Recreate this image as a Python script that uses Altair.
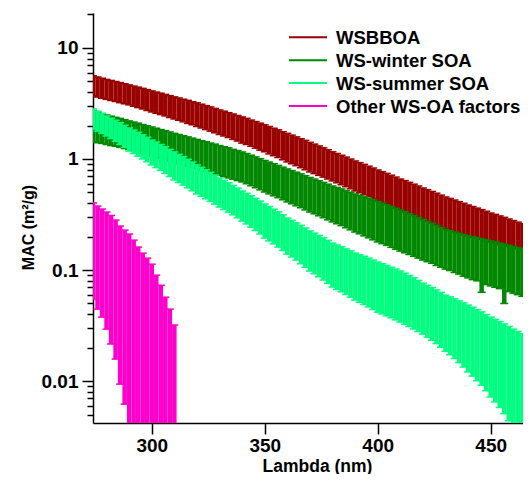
import altair as alt
import pandas as pd

# ---------------- data ----------------
lam = list(range(274, 469, 2))          # wavelength grid, nm
lam_other = list(range(274, 311, 2))    # "Other" factor only reaches ~311 nm

series_names = ["WSBBOA", "WS-winter SOA", "WS-summer SOA", "Other WS-OA factors"]
series_colors = ["#990000", "#008800", "#00FF80", "#FF00CC"]

# upper / lower ends of the error bars (MAC, m2/g)
wsbboa_hi = [5.60, 5.47, 5.33, 5.20, 5.09, 4.98, 4.87, 4.75, 4.64, 4.53,
             4.43, 4.32, 4.21, 4.10, 4.00, 3.91, 3.81, 3.72, 3.62, 3.54,
             3.45, 3.37, 3.28, 3.20, 3.11, 3.02, 2.94, 2.85, 2.76, 2.69,
             2.61, 2.54, 2.46, 2.39, 2.32, 2.24, 2.17, 2.10, 2.03, 1.96,
             1.89, 1.83, 1.76, 1.70, 1.64, 1.58, 1.52, 1.47, 1.41, 1.36,
             1.31, 1.26, 1.21, 1.16, 1.12, 1.08, 1.04, 0.999, 0.959, 0.926,
             0.894, 0.861, 0.829, 0.796, 0.769, 0.742, 0.714, 0.687, 0.660, 0.638,
             0.616, 0.593, 0.571, 0.548, 0.529, 0.510, 0.492, 0.473, 0.455, 0.441,
             0.427, 0.413, 0.399, 0.385, 0.373, 0.361, 0.350, 0.338, 0.326, 0.317,
             0.307, 0.298, 0.288, 0.279, 0.270, 0.262, 0.253, 0.244]
wsbboa_lo = [3.70, 3.61, 3.52, 3.44, 3.36, 3.29, 3.21, 3.14, 3.07, 2.98,
             2.90, 2.82, 2.73, 2.65, 2.58, 2.51, 2.44, 2.36, 2.29, 2.23,
             2.16, 2.09, 2.03, 1.96, 1.90, 1.84, 1.78, 1.72, 1.66, 1.61,
             1.56, 1.50, 1.45, 1.39, 1.35, 1.30, 1.25, 1.20, 1.16, 1.11,
             1.07, 1.03, 0.983, 0.940, 0.905, 0.870, 0.834, 0.799, 0.764, 0.738,
             0.712, 0.686, 0.660, 0.634, 0.610, 0.586, 0.563, 0.539, 0.515, 0.496,
             0.476, 0.457, 0.437, 0.418, 0.404, 0.390, 0.375, 0.361, 0.347, 0.335,
             0.322, 0.310, 0.297, 0.285, 0.275, 0.265, 0.254, 0.244, 0.234, 0.228,
             0.221, 0.215, 0.209, 0.203, 0.198, 0.193, 0.189, 0.184, 0.179, 0.175,
             0.171, 0.167, 0.163, 0.160, 0.156, 0.152, 0.149, 0.145]

winter_hi = [2.71, 2.64, 2.56, 2.49, 2.43, 2.37, 2.32, 2.26, 2.20, 2.15,
             2.10, 2.04, 1.99, 1.94, 1.89, 1.84, 1.80, 1.75, 1.70, 1.66,
             1.62, 1.58, 1.54, 1.50, 1.46, 1.43, 1.39, 1.36, 1.32, 1.29,
             1.26, 1.22, 1.19, 1.156, 1.119, 1.081, 1.044, 1.006, 0.969, 0.938,
             0.906, 0.875, 0.844, 0.813, 0.786, 0.760, 0.734, 0.707, 0.681, 0.659,
             0.637, 0.615, 0.593, 0.571, 0.554, 0.537, 0.518, 0.501, 0.484, 0.470,
             0.456, 0.442, 0.428, 0.414, 0.401, 0.387, 0.374, 0.360, 0.347, 0.335,
             0.322, 0.310, 0.297, 0.285, 0.274, 0.264, 0.253, 0.242, 0.232, 0.226,
             0.220, 0.214, 0.208, 0.203, 0.199, 0.195, 0.191, 0.187, 0.183, 0.179,
             0.175, 0.171, 0.167, 0.163, 0.159, 0.156, 0.152, 0.148]
winter_lo = [1.42, 1.40, 1.38, 1.35, 1.32, 1.30, 1.27, 1.24, 1.22, 1.19,
             1.16, 1.13, 1.09, 1.06, 1.04, 1.01, 0.983, 0.957, 0.930, 0.906,
             0.883, 0.859, 0.836, 0.813, 0.792, 0.772, 0.751, 0.731, 0.710, 0.692,
             0.675, 0.657, 0.639, 0.621, 0.598, 0.574, 0.551, 0.527, 0.504, 0.485,
             0.466, 0.448, 0.429, 0.410, 0.395, 0.379, 0.364, 0.348, 0.333, 0.321,
             0.308, 0.296, 0.283, 0.271, 0.261, 0.251, 0.240, 0.230, 0.220, 0.212,
             0.203, 0.195, 0.187, 0.179, 0.173, 0.167, 0.160, 0.154, 0.148, 0.143,
             0.138, 0.133, 0.128, 0.123, 0.119, 0.115, 0.110, 0.106, 0.102, 0.099,
             0.095, 0.092, 0.088, 0.085, 0.082, 0.080, 0.063, 0.074, 0.072, 0.070,
             0.068, 0.050, 0.064, 0.062, 0.060, 0.058, 0.050, 0.055]

summer_hi = [2.82, 2.69, 2.57, 2.44, 2.33, 2.23, 2.12, 2.01, 1.90, 1.82,
             1.74, 1.65, 1.57, 1.48, 1.42, 1.35, 1.29, 1.22, 1.156, 1.10,
             1.05, 0.992, 0.938, 0.883, 0.841, 0.799, 0.758, 0.716, 0.674, 0.642,
             0.610, 0.579, 0.547, 0.515, 0.491, 0.467, 0.442, 0.418, 0.393, 0.373,
             0.353, 0.334, 0.314, 0.294, 0.280, 0.266, 0.253, 0.239, 0.225, 0.215,
             0.205, 0.195, 0.185, 0.175, 0.168, 0.162, 0.155, 0.149, 0.142, 0.137,
             0.133, 0.128, 0.123, 0.118, 0.114, 0.110, 0.106, 0.102, 0.098, 0.0937,
             0.0893, 0.0850, 0.0806, 0.0763, 0.0729, 0.0696, 0.0662, 0.0629, 0.0595, 0.0573,
             0.0551, 0.0528, 0.0506, 0.0484, 0.0463, 0.0441, 0.0420, 0.0398, 0.0377, 0.0360,
             0.0344, 0.0327, 0.0311, 0.0294, 0.0280, 0.0267, 0.0253, 0.0239]
summer_lo = [1.86, 1.78, 1.70, 1.61, 1.53, 1.44, 1.35, 1.27, 1.18, 1.12,
             1.06, 1.00, 0.943, 0.883, 0.836, 0.789, 0.741, 0.694, 0.647, 0.614,
             0.582, 0.549, 0.517, 0.484, 0.461, 0.438, 0.415, 0.392, 0.369, 0.351,
             0.332, 0.314, 0.295, 0.276, 0.260, 0.243, 0.227, 0.211, 0.194, 0.183,
             0.172, 0.161, 0.150, 0.139, 0.131, 0.123, 0.114, 0.106, 0.098, 0.0925,
             0.0870, 0.0813, 0.0758, 0.0703, 0.0670, 0.0637, 0.0603, 0.0570, 0.0537, 0.0513,
             0.0490, 0.0466, 0.0442, 0.0418, 0.0403, 0.0387, 0.0372, 0.0356, 0.0340, 0.0325,
             0.0310, 0.0295, 0.0280, 0.0265, 0.0249, 0.0233, 0.0218, 0.0202, 0.0186, 0.0173,
             0.0160, 0.0147, 0.0134, 0.0121, 0.0111, 0.0101, 0.0092, 0.0082, 0.0072, 0.0065,
             0.0058, 0.0051, 0.0044, 0.0037, 0.0034, 0.0031, 0.0027, 0.0024]

other_hi = [0.402, 0.377, 0.354, 0.333, 0.310, 0.282, 0.249, 0.229, 0.211, 0.186,
            0.161, 0.142, 0.128, 0.113, 0.090, 0.073, 0.057, 0.0445, 0.032]
other_lo = [0.0548, 0.0445, 0.0377, 0.0294, 0.0216, 0.0158, 0.0094, 0.0062, 0.002, 0.002,
            0.002, 0.002, 0.002, 0.002, 0.002, 0.002, 0.002, 0.002, 0.002]

x_ticks = [300, 350, 400, 450]
y_ticks = [0.005, 0.006, 0.007, 0.008, 0.009,
           0.01, 0.02, 0.03, 0.04, 0.05, 0.06, 0.07, 0.08, 0.09,
           0.1, 0.2, 0.3, 0.4, 0.5, 0.6, 0.7, 0.8, 0.9,
           1, 2, 3, 4, 5, 6, 7, 8, 9,
           10, 20]

# ---------------- chart ----------------
FONT = "Liberation Sans"
major_test = "datum.value == 0.01 || datum.value == 0.1 || datum.value == 1 || datum.value == 10"

x_scale = alt.Scale(domain=[274, 464.3], nice=False, zero=False)
y_scale = alt.Scale(type="log", domain=[0.0042, 20.6], nice=False)

x_axis = alt.Axis(values=x_ticks, title="Lambda (nm)", grid=False,
                  tickSize=11, tickWidth=1.5, tickColor="black",
                  domainColor="black", domainWidth=1.5,
                  labelFont=FONT, labelFontSize=19, labelFontWeight="bold",
                  labelColor="black", labelBaseline="alphabetic",
                  labelPadding=17, labelFlush=False,
                  titleFont=FONT, titleFontSize=17.5, titleFontWeight="bold",
                  titleColor="black", titleX=224, titleY=48,
                  titleBaseline="alphabetic", titleAlign="center")
y_axis = alt.Axis(values=y_ticks, title="MAC (m²/g)", grid=False,
                  tickSize={"condition": {"test": major_test, "value": 11}, "value": 6},
                  tickWidth=1.5, tickColor="black",
                  domainColor="black", domainWidth=1.5,
                  labelExpr="datum.value == 0.01 ? '0.01' : datum.value == 0.1 ? '0.1' : "
                            "datum.value == 1 ? '1' : datum.value == 10 ? '10' : ''",
                  labelOverlap=False, labelFlush=False,
                  labelFont=FONT, labelFontSize=19, labelFontWeight="bold",
                  labelColor="black", labelPadding=4,
                  titleFont=FONT, titleFontSize=16, titleFontWeight="bold",
                  titleColor="black", titleX=-60, titleY=214, titleAngle=-90,
                  titleBaseline="alphabetic", titleAlign="center")

series = [
    (series_names[0], series_colors[0], lam, wsbboa_hi, wsbboa_lo),
    (series_names[1], series_colors[1], lam, winter_hi, winter_lo),
    (series_names[2], series_colors[2], lam, summer_hi, summer_lo),
    (series_names[3], series_colors[3], lam_other, other_hi, other_lo),
]

layers = []
for name, color, lams, hi, lo in series:
    df = pd.DataFrame({"lam": lams, "hi": hi, "lo": lo, "series": name})
    base = alt.Chart(df)
    bars = base.mark_rule(clip=True, strokeWidth=4.5, color=color).encode(
        x=alt.X("lam:Q", scale=x_scale, axis=x_axis),
        y=alt.Y("lo:Q", scale=y_scale, axis=y_axis),
        y2="hi:Q",
    )
    cap_hi = base.mark_rule(clip=True, strokeWidth=1.5, color=color,
                            xOffset=-4, x2Offset=4).encode(
        x=alt.X("lam:Q", scale=x_scale, axis=x_axis),
        x2="lam:Q",
        y=alt.Y("hi:Q", scale=y_scale, axis=y_axis),
    )
    cap_lo = base.mark_rule(clip=True, strokeWidth=1.5, color=color,
                            xOffset=-4, x2Offset=4).encode(
        x=alt.X("lam:Q", scale=x_scale, axis=x_axis),
        x2="lam:Q",
        y=alt.Y("lo:Q", scale=y_scale, axis=y_axis),
    )
    layers += [bars, cap_hi, cap_lo]

# legend (drawn by hand, top right)
for i, (name, color) in enumerate(zip(series_names, series_colors)):
    ldf = pd.DataFrame({"series": [name]})
    row_y = 24.3 + 22.9 * i
    layers.append(alt.Chart(ldf).mark_rule(strokeWidth=2, color=color).encode(
        x=alt.value(196), x2=alt.value(234), y=alt.value(row_y)))
    layers.append(alt.Chart(ldf).mark_text(
        align="left", baseline="middle", font=FONT, fontSize=18.5,
        fontWeight="bold", color="black", dy=1).encode(
        x=alt.value(243), y=alt.value(row_y), text="series:N"))

chart = alt.layer(*layers).properties(
    width=430, height=410,
    autosize=alt.AutoSizeParams(type="none"),
    padding={"left": 85, "top": 5, "right": 0, "bottom": 51},
    background="white",
).configure_view(stroke=None)

chart.save("out.html", embed_options={"renderer": "svg", "actions": False})
